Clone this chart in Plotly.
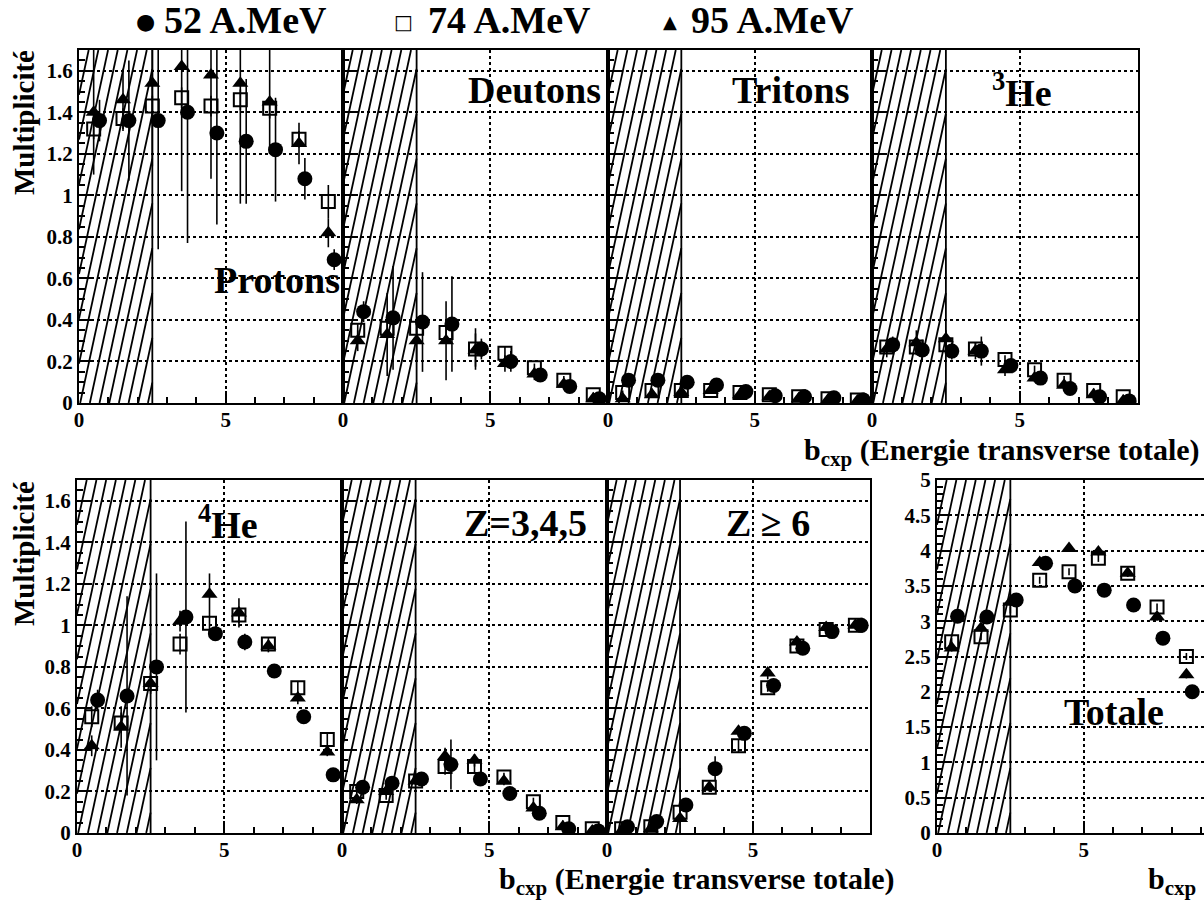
import plotly.graph_objects as go

W, H = 1204, 901

# ---------------- data ----------------
B_52 = [0.7, 1.7, 2.7, 3.7, 4.7, 5.7, 6.7, 7.7, 8.7]
B_74 = [0.5, 1.5, 2.5, 3.5, 4.5, 5.5, 6.5, 7.5, 8.5]
B_95 = [0.5, 1.5, 2.5, 3.5, 4.5, 5.5, 6.5, 7.5, 8.5]

protons_52 = [1.36, 1.36, 1.36, 1.40, 1.30, 1.26, 1.22, 1.08, 0.69]
protons_52_err = [0.10, 0.29, 0.62, 0.63, 0.44, 0.30, 0.25, 0.10, 0.05]
protons_74 = [1.32, 1.37, 1.43, 1.47, 1.43, 1.46, 1.42, 1.27, 0.97]
protons_74_err = [0.05, 0.05, 0.05, 0.05, 0.05, 0.05, 0.05, 0.04, 0.08]
protons_95 = [1.40, 1.46, 1.54, 1.62, 1.58, 1.54, 1.45, 1.25, 0.82]
protons_95_err = [0.30, 0.15, 0.40, 0.60, 0.50, 0.58, 0.25, 0.10, 0.07]

deutons_52 = [0.44, 0.41, 0.39, 0.38, 0.26, 0.20, 0.135, 0.08, 0.02]
deutons_52_err = [0.05, 0.25, 0.24, 0.23, 0.05, 0.05, 0.03, 0.02, 0.01]
deutons_74 = [0.35, 0.36, 0.36, 0.34, 0.26, 0.24, 0.17, 0.11, 0.04]
deutons_74_err = [0.03, 0.03, 0.03, 0.03, 0.10, 0.03, 0.02, 0.02, 0.01]
deutons_95 = [0.30, 0.33, 0.30, 0.30, 0.255, 0.19, 0.14, 0.09, 0.02]
deutons_95_err = [0.05, 0.20, 0.10, 0.19, 0.08, 0.04, 0.03, 0.02, 0.01]

tritons_52 = [0.11, 0.11, 0.10, 0.087, 0.055, 0.035, 0.03, 0.025, 0.015]
tritons_52_err = [0.02, 0.02, 0.02, 0.02, 0.01, 0.01, 0.01, 0.01, 0.01]
tritons_74 = [0.05, 0.06, 0.06, 0.06, 0.05, 0.04, 0.03, 0.02, 0.015]
tritons_74_err = [0.01, 0.01, 0.01, 0.01, 0.01, 0.01, 0.01, 0.01, 0.01]
tritons_95 = [0.02, 0.04, 0.05, 0.06, 0.04, 0.03, 0.02, 0.015, 0.01]
tritons_95_err = [0.01, 0.01, 0.01, 0.01, 0.01, 0.01, 0.01, 0.01, 0.01]

he3_52 = [0.28, 0.255, 0.25, 0.25, 0.18, 0.12, 0.07, 0.03, 0.01]
he3_52_err = [0.04, 0.05, 0.04, 0.07, 0.03, 0.02, 0.02, 0.01, 0.01]
he3_74 = [0.27, 0.27, 0.28, 0.26, 0.21, 0.16, 0.11, 0.06, 0.03]
he3_74_err = [0.03, 0.03, 0.03, 0.03, 0.02, 0.02, 0.02, 0.01, 0.01]
he3_95 = [0.26, 0.29, 0.31, 0.25, 0.16, 0.12, 0.085, 0.04, 0.01]
he3_95_err = [0.04, 0.06, 0.04, 0.04, 0.03, 0.02, 0.02, 0.01, 0.01]

he4_52 = [0.64, 0.66, 0.80, 1.04, 0.96, 0.92, 0.78, 0.56, 0.28]
he4_52_err = [0.05, 0.48, 0.45, 0.46, 0.03, 0.04, 0.02, 0.02, 0.02]
he4_74 = [0.56, 0.53, 0.72, 0.91, 1.01, 1.05, 0.91, 0.70, 0.45]
he4_74_err = [0.05, 0.05, 0.04, 0.05, 0.04, 0.04, 0.03, 0.03, 0.03]
he4_95 = [0.42, 0.51, 0.72, 1.02, 1.15, 1.06, 0.90, 0.65, 0.39]
he4_95_err = [0.05, 0.10, 0.05, 0.05, 0.10, 0.07, 0.03, 0.03, 0.02]

z345_52 = [0.22, 0.24, 0.26, 0.33, 0.26, 0.19, 0.095, 0.02, 0.01]
z345_52_err = [0.02, 0.03, 0.02, 0.12, 0.02, 0.02, 0.02, 0.01, 0.01]
z345_74 = [0.20, 0.18, 0.25, 0.32, 0.32, 0.27, 0.15, 0.05, 0.02]
z345_74_err = [0.02, 0.02, 0.02, 0.04, 0.03, 0.02, 0.02, 0.01, 0.01]
z345_95 = [0.16, 0.20, 0.25, 0.37, 0.35, 0.25, 0.12, 0.03, 0.01]
z345_95_err = [0.02, 0.02, 0.02, 0.04, 0.03, 0.02, 0.02, 0.01, 0.01]

z6_52 = [0.03, 0.055, 0.135, 0.31, 0.48, 0.71, 0.89, 0.97, 1.00]
z6_52_err = [0.01, 0.01, 0.02, 0.06, 0.02, 0.02, 0.02, 0.02, 0.02]
z6_74 = [0.02, 0.03, 0.10, 0.22, 0.42, 0.70, 0.90, 0.98, 1.00]
z6_74_err = [0.01, 0.01, 0.02, 0.02, 0.03, 0.02, 0.02, 0.02, 0.02]
z6_95 = [0.01, 0.02, 0.07, 0.22, 0.49, 0.77, 0.92, 0.99, 1.00]
z6_95_err = [0.01, 0.01, 0.02, 0.02, 0.02, 0.03, 0.02, 0.02, 0.02]

tot_52 = [3.07, 3.06, 3.30, 3.82, 3.50, 3.44, 3.23, 2.76, 2.00]
tot_52_err = [0.05, 0.05, 0.05, 0.05, 0.05, 0.05, 0.05, 0.05, 0.05]
tot_74 = [2.71, 2.78, 3.16, 3.58, 3.70, 3.89, 3.68, 3.20, 2.50]
tot_74_err = [0.05, 0.05, 0.05, 0.05, 0.05, 0.05, 0.05, 0.05, 0.05]
tot_95 = [2.62, 2.90, 3.27, 3.83, 4.03, 3.98, 3.68, 3.06, 2.24]
tot_95_err = [0.05, 0.05, 0.05, 0.05, 0.05, 0.05, 0.05, 0.05, 0.05]

series_names = ["52 A.MeV", "74 A.MeV", "95 A.MeV"]
series_glyphs = ["●", "□", "▲"]
panel_labels = ["Protons", "Deutons", "Tritons", "<sup>3</sup>He",
                "<sup>4</sup>He", "Z=3,4,5", "Z ≥ 6", "Totale"]
x_title = "b<sub>cxp</sub> (Energie transverse totale)"
y_title = "Multiplicité"
HATCH_LIMIT = 2.5

panels = [
    (protons_52, protons_52_err, protons_74, protons_74_err, protons_95, protons_95_err),
    (deutons_52, deutons_52_err, deutons_74, deutons_74_err, deutons_95, deutons_95_err),
    (tritons_52, tritons_52_err, tritons_74, tritons_74_err, tritons_95, tritons_95_err),
    (he3_52, he3_52_err, he3_74, he3_74_err, he3_95, he3_95_err),
    (he4_52, he4_52_err, he4_74, he4_74_err, he4_95, he4_95_err),
    (z345_52, z345_52_err, z345_74, z345_74_err, z345_95, z345_95_err),
    (z6_52, z6_52_err, z6_74, z6_74_err, z6_95, z6_95_err),
    (tot_52, tot_52_err, tot_74, tot_74_err, tot_95, tot_95_err),
]

# ---------------- layout geometry (pixels) ----------------
def px_x(p):
    return p / W

def px_y(p):
    return 1 - p / H

TOP = (50, 403)
BOT = (480, 833)
boxes = [
    ((79, 343), TOP), ((343, 608), TOP), ((608, 872), TOP), ((872, 1138), TOP),
    ((77, 342), BOT), ((342, 607), BOT), ((607, 870), BOT), ((937, 1204), BOT),
]
x_ranges = [9.0] * 7 + [9.1]
y_ranges = [1.7] * 7 + [5.0]

SERIF = "Liberation Serif"
FONT_TICK = dict(family=SERIF, size=21, color="black", weight="bold")


def hatch(xlim, ymax, slope=2.6, step=0.33):
    xs, ys = [], []
    c = -slope
    while c < xlim:
        y_lo = max(0.0, (0 - c) / slope * ymax)
        y_hi = min(ymax, (xlim - c) / slope * ymax)
        if y_hi > y_lo:
            xs += [c + slope * y_lo / ymax, c + slope * y_hi / ymax, None]
            ys += [y_lo, y_hi, None]
        c += step
    xs += [xlim, xlim, None]
    ys += [0, ymax, None]
    return xs, ys


fig = go.Figure()
layout = {}
styles = [
    dict(symbol="circle", size=15, color="black"),
    dict(symbol="square-open", size=13, color="black", line=dict(width=2, color="black")),
    dict(symbol="triangle-up", size=14, color="black"),
]
xpos = [B_52, B_74, B_95]

for i, (box, pdata) in enumerate(zip(boxes, panels)):
    n = i + 1
    xa = "x" if n == 1 else f"x{n}"
    ya = "y" if n == 1 else f"y{n}"
    ymax = y_ranges[i]
    hx, hy = hatch(HATCH_LIMIT, ymax)
    fig.add_trace(go.Scatter(x=hx, y=hy, mode="lines", xaxis=xa, yaxis=ya,
                             line=dict(color="black", width=1.8),
                             hoverinfo="skip", showlegend=False))
    for k in range(3):
        vals = pdata[2 * k]
        errs = pdata[2 * k + 1]
        fig.add_trace(go.Scatter(
            x=xpos[k], y=vals, mode="markers", xaxis=xa, yaxis=ya,
            name=series_names[k], legendgroup=series_names[k], showlegend=False,
            marker=styles[k], cliponaxis=True,
            error_y=dict(type="data", array=errs, symmetric=True, color="black",
                         thickness=1.6, width=0)))

    (x0, x1), (y0, y1) = box
    left_col = i in (0, 4, 7)
    is_tot = i == 7
    layout[f"xaxis{'' if n == 1 else n}"] = dict(
        domain=[px_x(x0), px_x(x1)], anchor=ya, range=[0, x_ranges[i]],
        tick0=0, dtick=5, ticks="inside", ticklen=12, tickwidth=1.5, tickcolor="black",
        minor=dict(dtick=1, ticks="inside", ticklen=6, tickwidth=1.5, tickcolor="black"),
        showline=True, linewidth=2, linecolor="black", mirror=True,
        showgrid=True, gridcolor="black", griddash="dot", gridwidth=1.5,
        ticklabelstandoff=-3,
        zeroline=False, tickfont=FONT_TICK, fixedrange=True, automargin=False)
    layout[f"yaxis{'' if n == 1 else n}"] = dict(
        domain=[px_y(y1), px_y(y0)], anchor=xa, range=[0, ymax],
        tick0=0, dtick=(0.5 if is_tot else 0.2),
        ticks="inside", ticklen=12, tickwidth=1.5, tickcolor="black",
        minor=dict(dtick=(0.1 if is_tot else 0.05), ticks="inside", ticklen=6,
                   tickwidth=1.5, tickcolor="black"),
        showticklabels=left_col,
        showline=True, linewidth=2, linecolor="black", mirror=True,
        showgrid=True, gridcolor="black", griddash="dot", gridwidth=1.5,
        zeroline=False, tickfont=FONT_TICK, fixedrange=True, automargin=False)

label_pos = [(277, 280), (534, 90), (791, 90), (1022, 90),
             (228, 522), (525, 523), (768, 523), (1114, 712)]
annotations = []
for text, (px, py) in zip(panel_labels, label_pos):
    annotations.append(dict(text=text, x=px_x(px), y=px_y(py), xref="paper", yref="paper",
                            showarrow=False, xanchor="center", yanchor="middle",
                            font=dict(family=SERIF, size=38, color="black", weight="bold")))

# legend row at the top (symbol + label)
legend_sym_x = [145, 403, 670]
legend_txt_x = [162, 426, 689]
glyph_sizes = [22, 20, 18]
for k in range(3):
    annotations.append(dict(text=series_glyphs[k], x=px_x(legend_sym_x[k]), y=px_y(22),
                            xref="paper", yref="paper", showarrow=False,
                            xanchor="center", yanchor="middle",
                            font=dict(family="DejaVu Sans", size=glyph_sizes[k], color="black")))
    annotations.append(dict(text=series_names[k], x=px_x(legend_txt_x[k]), y=px_y(20),
                            xref="paper", yref="paper", showarrow=False,
                            xanchor="left", yanchor="middle",
                            font=dict(family=SERIF, size=38, color="black", weight="bold")))

for cy in (123, 554):
    annotations.append(dict(text=y_title, x=px_x(24), y=px_y(cy), xref="paper", yref="paper",
                            showarrow=False, textangle=-90, xanchor="center", yanchor="middle",
                            font=dict(family=SERIF, size=29, color="black", weight="bold")))

TITLE_FONT = dict(family=SERIF, size=30, color="black", weight="bold")
annotations.append(dict(text=x_title, x=px_x(1202), y=px_y(452), xref="paper", yref="paper",
                        showarrow=False, xanchor="right", yanchor="middle", font=TITLE_FONT))
annotations.append(dict(text=x_title, x=px_x(697), y=px_y(881), xref="paper", yref="paper",
                        showarrow=False, xanchor="center", yanchor="middle", font=TITLE_FONT))
annotations.append(dict(text="b<sub>cxp</sub>", x=px_x(1172), y=px_y(881), xref="paper", yref="paper",
                        showarrow=False, xanchor="center", yanchor="middle", font=TITLE_FONT))

fig.update_layout(
    template="none",
    width=W, height=H,
    margin=dict(l=0, r=0, t=0, b=0, pad=0, autoexpand=False),
    paper_bgcolor="white", plot_bgcolor="white",
    annotations=annotations,
    showlegend=False,
    **layout,
)

fig.write_html("out.html", config={"displayModeBar": False},
               post_script="document.body.style.margin='0px';")
